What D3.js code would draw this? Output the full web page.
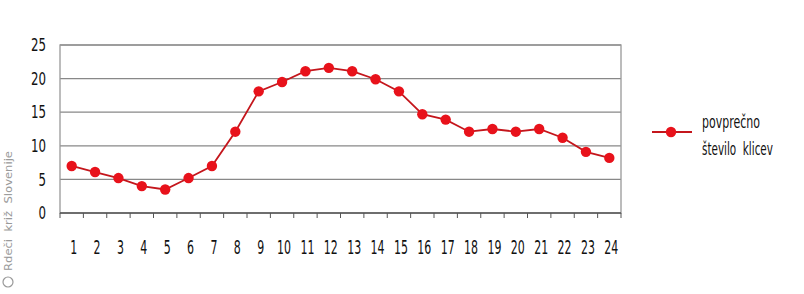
<!DOCTYPE html>
<html>
<head>
<meta charset="utf-8">
<script src="https://cdn.jsdelivr.net/npm/d3@7"></script>
<style>
  body { margin: 0; background: #fff; }
  text { font-family: "DejaVu Sans Condensed", "Liberation Sans Narrow", "DejaVu Sans", sans-serif; }
</style>
</head>
<body>
<svg id="chart" width="804" height="294"></svg>
<script>
const hours = d3.range(1, 25);
const calls = [7, 6.1, 5.2, 4, 3.5, 5.2, 7, 12.1, 18.1, 19.5, 21.1, 21.6, 21.1, 19.9, 18.1,
               14.7, 13.9, 12.1, 12.5, 12.1, 12.5, 11.2, 9.1, 8.2];
const yTicks = [0, 5, 10, 15, 20, 25];
const legendLines = ["povprečno", "število  klicev"];

const svg = d3.select("#chart");
const plotLeft = 60, plotRight = 621, plotTop = 45, plotBottom = 213;
const red = "#e8121b", lineCol = "#c4161c";

const x = d3.scaleBand().domain(hours).range([plotLeft, plotRight]);
const y = d3.scaleLinear().domain([0, 25]).range([plotBottom, plotTop]);

// grid
svg.append("g").selectAll("line")
    .data(yTicks.filter(d => d > 0))
    .enter().append("line")
    .attr("x1", plotLeft).attr("x2", plotRight)
    .attr("y1", d => y(d)).attr("y2", d => y(d))
    .attr("stroke", "#888").attr("stroke-width", 1.3);

// frame
svg.append("rect")
    .attr("x", plotLeft).attr("y", plotTop)
    .attr("width", plotRight - plotLeft).attr("height", plotBottom - plotTop)
    .attr("fill", "none").attr("stroke", "#999").attr("stroke-width", 1.3);
svg.append("line")
    .attr("x1", plotLeft).attr("x2", plotRight).attr("y1", plotBottom).attr("y2", plotBottom)
    .attr("stroke", "#555").attr("stroke-width", 1.3);

// x ticks at category edges
svg.append("g").selectAll("line")
    .data(d3.range(0, 25))
    .enter().append("line")
    .attr("x1", i => plotLeft + i * x.step()).attr("x2", i => plotLeft + i * x.step())
    .attr("y1", plotBottom).attr("y2", plotBottom + 5)
    .attr("stroke", "#555");

// y labels
svg.append("g").selectAll("text")
    .data(yTicks)
    .enter().append("text")
    .attr("x", 46).attr("y", d => y(d))
    .attr("dy", "0.36em")
    .attr("text-anchor", "end")
    .attr("font-size", 17)
    .attr("textLength", d => String(d).length * 7.5)
    .attr("lengthAdjust", "spacingAndGlyphs")
    .attr("fill", "#111")
    .text(d => d);

// x labels
svg.append("g").selectAll("text")
    .data(hours)
    .enter().append("text")
    .attr("x", d => x(d) + x.bandwidth() / 2 + 2)
    .attr("y", 247)
    .attr("dy", "0.36em")
    .attr("text-anchor", "middle")
    .attr("font-size", 20)
    .attr("textLength", d => String(d).length * 7)
    .attr("lengthAdjust", "spacingAndGlyphs")
    .attr("fill", "#111")
    .text(d => d);

// series
const line = d3.line()
    .x((d, i) => x(hours[i]) + x.bandwidth() / 2)
    .y(d => y(d));

svg.append("path")
    .datum(calls)
    .attr("d", line)
    .attr("fill", "none")
    .attr("stroke", lineCol)
    .attr("stroke-width", 1.8);

svg.append("g").selectAll("circle")
    .data(calls)
    .enter().append("circle")
    .attr("cx", (d, i) => x(hours[i]) + x.bandwidth() / 2)
    .attr("cy", d => y(d))
    .attr("r", 5.2)
    .attr("fill", red);

// legend
const lg = svg.append("g");
lg.append("line")
    .attr("x1", 652).attr("x2", 692).attr("y1", 132).attr("y2", 132)
    .attr("stroke", lineCol).attr("stroke-width", 1.8);
lg.append("circle")
    .attr("cx", 671).attr("cy", 132).attr("r", 5.2).attr("fill", red);
const legendWidths = [58, 71];
legendLines.forEach((txt, i) => {
    const g = lg.append("g");
    const t = g.append("text")
        .attr("x", 0).attr("y", 0)
        .attr("dy", "0.36em")
        .attr("font-size", 17)
        .attr("fill", "#111")
        .style("white-space", "pre")
        .text(txt);
    const sx = legendWidths[i] / t.node().getComputedTextLength();
    g.attr("transform", `translate(702,${122 + i * 27}) scale(${sx},1)`);
});

// watermark
const wm = svg.append("g").attr("transform", "translate(12,271) rotate(-90)");
wm.append("text")
    .attr("x", 0).attr("y", 0)
    .attr("font-size", 11)
    .attr("textLength", 120)
    .attr("lengthAdjust", "spacingAndGlyphs")
    .attr("fill", "#999")
    .style("white-space", "pre")
    .text("Rdeči  križ  Slovenije");
wm.append("circle")
    .attr("cx", -11).attr("cy", -4).attr("r", 5)
    .attr("fill", "none").attr("stroke", "#999").attr("stroke-width", 1.2);
</script>
</body>
</html>
